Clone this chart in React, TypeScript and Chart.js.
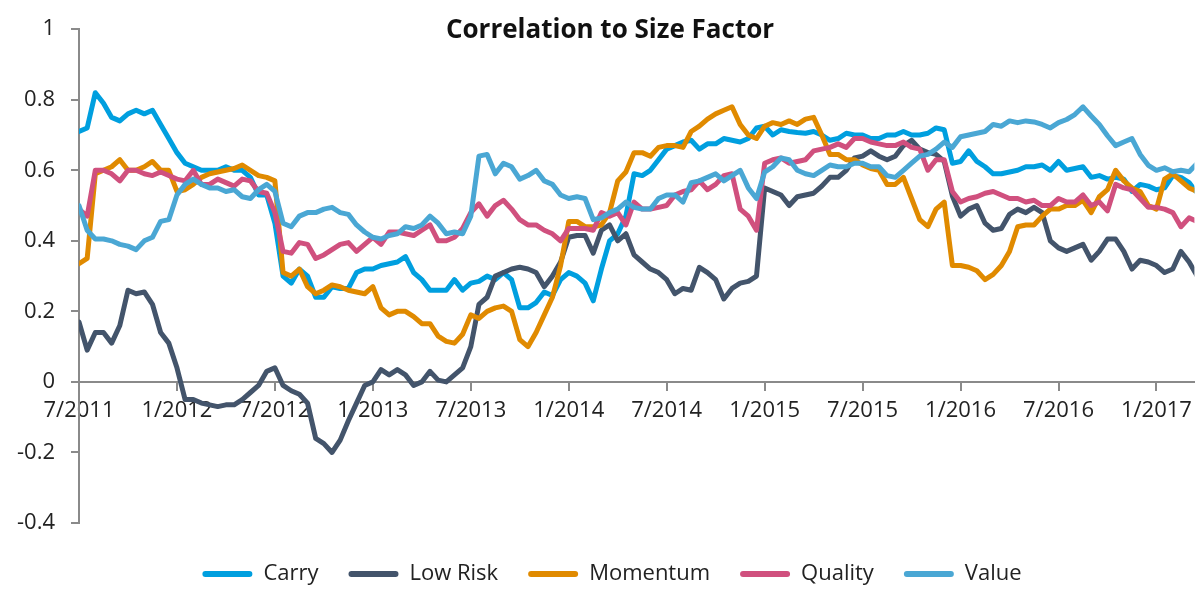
import React, { useEffect, useRef } from 'react';
import { Chart, registerables } from 'chart.js';

Chart.register(...registerables);

const chartTitle = 'Correlation to Size Factor';
const seriesNames = ['Carry', 'Low Risk', 'Momentum', 'Quality', 'Value'];
const seriesColors = ['#009FDF', '#43546B', '#E08A00', '#D0507E', '#4AA7D4'];
const tickLabels = ['7/2011', '1/2012', '7/2012', '1/2013', '7/2013', '1/2014', '7/2014', '1/2015', '7/2015', '1/2016', '7/2016', '1/2017'];
const pointsPerHalfYear = 12;
const xEnd = 136.65;
const yMin = -0.4;
const yMax = 1;
const yStep = 0.2;

const carry = [
  0.71, 0.72, 0.82, 0.79, 0.75, 0.74, 0.76, 0.77, 0.76, 0.77, 0.73, 0.69, 0.65, 0.62, 0.61, 0.60, 0.60, 0.60, 0.61, 0.60, 0.60, 0.58, 0.53, 0.53,
  0.45, 0.30, 0.28, 0.32, 0.30, 0.24, 0.24, 0.27, 0.265, 0.265, 0.31, 0.32, 0.32, 0.33, 0.335, 0.34, 0.355, 0.31, 0.29, 0.26, 0.26, 0.26, 0.29,
  0.26, 0.28, 0.285, 0.30, 0.29, 0.31, 0.29, 0.21, 0.21, 0.225, 0.255, 0.245, 0.29, 0.31, 0.30, 0.28, 0.23, 0.32, 0.40, 0.42, 0.47, 0.59, 0.585,
  0.60, 0.63, 0.66, 0.67, 0.68, 0.685, 0.66, 0.675, 0.675, 0.69, 0.685, 0.68, 0.69, 0.72, 0.725, 0.70, 0.715, 0.71, 0.707, 0.705, 0.71, 0.70, 0.685, 0.69,
  0.705, 0.70, 0.70, 0.69, 0.69, 0.70, 0.70, 0.71, 0.70, 0.70, 0.705, 0.72, 0.715, 0.62, 0.625, 0.655, 0.625, 0.61, 0.59, 0.59, 0.595, 0.60, 0.61,
  0.61, 0.615, 0.60, 0.625, 0.60, 0.605, 0.61, 0.58, 0.585, 0.575, 0.58, 0.575, 0.54, 0.56, 0.555, 0.545, 0.55, 0.585, 0.58, 0.565, 0.535,
];

const lowRisk = [
  0.17, 0.09, 0.14, 0.14, 0.11, 0.16, 0.26, 0.25, 0.255, 0.22, 0.14, 0.11, 0.04, -0.05, -0.05, -0.06, -0.065, -0.07, -0.065, -0.065, -0.05, -0.03, -0.01, 0.03,
  0.04, -0.01, -0.025, -0.035, -0.06, -0.16, -0.175, -0.20, -0.165, -0.11, -0.06, -0.01, 0.0, 0.035, 0.02, 0.035, 0.02, -0.01, 0.0, 0.03, 0.005, 0.0, 0.02,
  0.04, 0.10, 0.22, 0.24, 0.30, 0.31, 0.32, 0.325, 0.32, 0.31, 0.27, 0.30, 0.34, 0.41, 0.415, 0.415, 0.365, 0.43, 0.445, 0.40, 0.42, 0.36, 0.34,
  0.32, 0.31, 0.29, 0.25, 0.265, 0.26, 0.325, 0.31, 0.29, 0.235, 0.265, 0.28, 0.285, 0.30, 0.55, 0.54, 0.53, 0.50, 0.525, 0.53, 0.535, 0.555, 0.58, 0.58,
  0.60, 0.635, 0.64, 0.655, 0.64, 0.63, 0.64, 0.67, 0.685, 0.66, 0.65, 0.645, 0.625, 0.527, 0.47, 0.49, 0.50, 0.45, 0.43, 0.435, 0.475, 0.49, 0.48,
  0.495, 0.48, 0.40, 0.38, 0.37, 0.38, 0.39, 0.345, 0.37, 0.405, 0.405, 0.37, 0.32, 0.345, 0.34, 0.33, 0.31, 0.32, 0.37, 0.34, 0.30,
];

const momentum = [
  0.335, 0.35, 0.59, 0.60, 0.61, 0.63, 0.60, 0.60, 0.61, 0.625, 0.60, 0.60, 0.54, 0.545, 0.56, 0.58, 0.59, 0.595, 0.60, 0.605, 0.615, 0.60, 0.585, 0.58,
  0.57, 0.31, 0.30, 0.32, 0.27, 0.25, 0.26, 0.275, 0.27, 0.26, 0.255, 0.25, 0.27, 0.21, 0.19, 0.20, 0.20, 0.185, 0.165, 0.165, 0.13, 0.115, 0.11,
  0.135, 0.19, 0.18, 0.20, 0.21, 0.215, 0.20, 0.12, 0.10, 0.14, 0.19, 0.24, 0.33, 0.455, 0.455, 0.44, 0.44, 0.445, 0.48, 0.57, 0.595, 0.65, 0.65,
  0.64, 0.665, 0.67, 0.67, 0.665, 0.71, 0.725, 0.745, 0.76, 0.77, 0.78, 0.73, 0.70, 0.69, 0.725, 0.735, 0.73, 0.74, 0.73, 0.745, 0.75, 0.70, 0.645, 0.645,
  0.63, 0.63, 0.615, 0.605, 0.60, 0.56, 0.56, 0.58, 0.52, 0.46, 0.44, 0.49, 0.51, 0.33, 0.33, 0.325, 0.315, 0.29, 0.305, 0.33, 0.37, 0.44, 0.445,
  0.445, 0.47, 0.49, 0.49, 0.50, 0.50, 0.515, 0.48, 0.525, 0.545, 0.60, 0.57, 0.55, 0.54, 0.50, 0.49, 0.575, 0.59, 0.57, 0.55, 0.54,
];

const quality = [
  0.49, 0.47, 0.60, 0.60, 0.59, 0.57, 0.60, 0.60, 0.59, 0.585, 0.595, 0.585, 0.575, 0.57, 0.60, 0.56, 0.56, 0.575, 0.565, 0.555, 0.575, 0.57, 0.54, 0.535,
  0.48, 0.37, 0.365, 0.395, 0.39, 0.35, 0.36, 0.375, 0.39, 0.395, 0.37, 0.39, 0.41, 0.39, 0.425, 0.425, 0.42, 0.415, 0.43, 0.445, 0.40, 0.40, 0.41,
  0.435, 0.48, 0.505, 0.47, 0.50, 0.515, 0.49, 0.46, 0.445, 0.445, 0.43, 0.42, 0.40, 0.435, 0.435, 0.435, 0.43, 0.48, 0.47, 0.48, 0.445, 0.51, 0.49,
  0.49, 0.495, 0.50, 0.53, 0.54, 0.545, 0.57, 0.545, 0.56, 0.585, 0.59, 0.49, 0.47, 0.43, 0.62, 0.63, 0.635, 0.62, 0.625, 0.63, 0.655, 0.66, 0.665, 0.675,
  0.665, 0.69, 0.69, 0.68, 0.675, 0.67, 0.67, 0.68, 0.665, 0.66, 0.60, 0.63, 0.63, 0.54, 0.51, 0.52, 0.525, 0.535, 0.54, 0.53, 0.52, 0.52, 0.51,
  0.515, 0.50, 0.50, 0.52, 0.51, 0.51, 0.53, 0.50, 0.51, 0.485, 0.56, 0.55, 0.545, 0.52, 0.495, 0.495, 0.49, 0.48, 0.44, 0.465, 0.455,
];

const value = [
  0.50, 0.43, 0.405, 0.405, 0.40, 0.39, 0.385, 0.375, 0.40, 0.41, 0.455, 0.46, 0.53, 0.56, 0.575, 0.56, 0.55, 0.55, 0.54, 0.545, 0.525, 0.52, 0.545, 0.56,
  0.54, 0.45, 0.44, 0.47, 0.48, 0.48, 0.49, 0.495, 0.48, 0.475, 0.445, 0.425, 0.41, 0.405, 0.415, 0.42, 0.44, 0.435, 0.445, 0.47, 0.45, 0.42, 0.425,
  0.42, 0.47, 0.64, 0.645, 0.59, 0.62, 0.61, 0.575, 0.585, 0.60, 0.57, 0.56, 0.53, 0.52, 0.525, 0.52, 0.46, 0.465, 0.48, 0.49, 0.51, 0.495, 0.49,
  0.49, 0.52, 0.53, 0.53, 0.51, 0.565, 0.57, 0.58, 0.59, 0.57, 0.585, 0.60, 0.55, 0.52, 0.595, 0.61, 0.635, 0.63, 0.60, 0.59, 0.585, 0.60, 0.615, 0.61,
  0.61, 0.62, 0.62, 0.61, 0.61, 0.585, 0.58, 0.60, 0.62, 0.64, 0.645, 0.66, 0.68, 0.665, 0.695, 0.70, 0.705, 0.71, 0.73, 0.725, 0.74, 0.735, 0.74,
  0.737, 0.73, 0.72, 0.735, 0.744, 0.758, 0.78, 0.754, 0.73, 0.698, 0.67, 0.68, 0.69, 0.645, 0.614, 0.60, 0.607, 0.596, 0.60, 0.596, 0.62,
];

const seriesValues = [carry, lowRisk, momentum, quality, value];

const FONT = "'Open Sans', 'DejaVu Sans', sans-serif";

const titlePlugin = {
  id: 'canvasTitle',
  afterDraw(chart: any) {
    const ctx = chart.ctx;
    ctx.save();
    ctx.font = "bold 26px 'Open Sans', 'DejaVu Sans', sans-serif";
    ctx.fillStyle = '#111111';
    ctx.textAlign = 'center';
    ctx.textBaseline = 'alphabetic';
    ctx.fillText(chartTitle, 610, 38);
    ctx.restore();
  },
};

const legendFitPlugin = {
  id: 'legendFit',
  beforeUpdate(chart: any) {
    const lg = chart.legend;
    if (lg && !lg.__fitPatched) {
      const orig = lg.fit.bind(lg);
      lg.fit = function () {
        orig();
        this.height = 66;
      };
      lg.__fitPatched = true;
    }
  },
  afterLayout(chart: any) {
    const lg = chart.legend;
    if (lg) {
      lg.left = 26;
      lg.width = lg.right - lg.left;
    }
  },
};

export default function App() {
  const canvasRef = useRef<HTMLCanvasElement | null>(null);

  useEffect(() => {
    if (!canvasRef.current) return;
    const datasets = seriesNames.map((name, s) => ({
      label: name,
      data: seriesValues[s].map((v, i) => ({ x: i, y: v })),
      borderColor: seriesColors[s],
      backgroundColor: seriesColors[s],
      borderWidth: 5,
      pointRadius: 0,
      tension: 0,
      borderJoinStyle: 'round' as const,
      borderCapStyle: 'round' as const,
      clip: 0,
      order: seriesNames.length - 1 - s,
    }));

    const chart = new Chart(canvasRef.current, {
      type: 'line',
      data: { datasets },
      plugins: [titlePlugin, legendFitPlugin],
      options: {
        animation: false,
        responsive: false,
        events: [],
        layout: { padding: { left: 0, right: 2, top: 18, bottom: 0 } },
        scales: {
          x: {
            type: 'linear',
            position: { y: 0 } as any,
            min: 0,
            max: xEnd,
            grid: {
              display: true,
              drawOnChartArea: false,
              drawTicks: true,
              tickLength: 8,
              color: '#8A8A8A',
              lineWidth: 2,
            },
            border: { display: true, color: '#8A8A8A', width: 2 },
            ticks: {
              stepSize: pointsPerHalfYear,
              includeBounds: false,
              autoSkip: false,
              maxRotation: 0,
              minRotation: 0,
              padding: 8,
              color: '#222222',
              font: { family: FONT, size: 22 },
              callback: (v: any) => {
                const n = Number(v);
                const idx = Math.round(n / pointsPerHalfYear);
                if (Math.abs(n - idx * pointsPerHalfYear) > 1e-6) return '';
                return tickLabels[idx] ?? '';
              },
            },
          },
          y: {
            type: 'linear',
            position: 'left',
            min: yMin,
            max: yMax,
            afterFit: (scale: any) => {
              scale.width = 79;
            },
            grid: {
              display: true,
              drawOnChartArea: false,
              drawTicks: true,
              tickLength: 8,
              color: '#8A8A8A',
              lineWidth: 2,
            },
            border: { display: true, color: '#8A8A8A', width: 2 },
            ticks: {
              stepSize: yStep,
              padding: 16,
              color: '#222222',
              font: { family: FONT, size: 22 },
              callback: (v: any) => String(Math.round(Number(v) * 10) / 10),
            },
          },
        },
        plugins: {
          tooltip: { enabled: false },
          title: { display: false },
          legend: {
            display: true,
            position: 'bottom',
            align: 'center',
            title: { display: true, text: '', font: { size: 1, lineHeight: 1 }, padding: { top: 0, bottom: 9 } },
            labels: {
              boxWidth: 50,
              boxHeight: 6,
              useBorderRadius: true,
              borderRadius: 3,
              padding: 30,
              color: '#222222',
              font: { family: FONT, size: 22 },
              generateLabels: (c: any) =>
                (Chart.defaults.plugins.legend.labels.generateLabels as any)(c).map((l: any) => ({ ...l, lineWidth: 0 })),
              sort: (a: any, b: any) => a.datasetIndex - b.datasetIndex,
            },
          },
        },
      } as any,
    });

    return () => {
      chart.destroy();
    };
  }, []);

  return (
    <div style={{ position: 'fixed', left: 0, top: 0, width: 1200, height: 589, background: '#ffffff' }}>
      <canvas ref={canvasRef} width={1200} height={589} style={{ display: 'block' }} />
    </div>
  );
}
